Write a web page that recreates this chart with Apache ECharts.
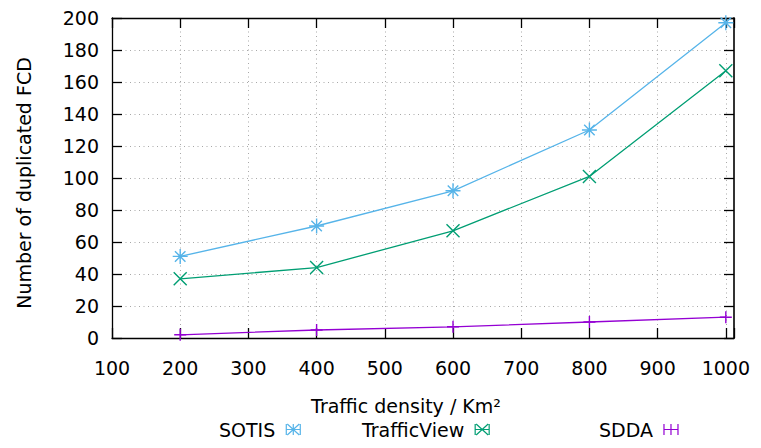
<!DOCTYPE html>
<html>
<head>
<meta charset="utf-8">
<script src="https://cdn.jsdelivr.net/npm/echarts@6/dist/echarts.min.js"></script>
<style>html,body{margin:0;padding:0;background:#fff}#c{width:761px;height:448px}</style>
</head>
<body>
<div id="c"></div>
<script>
const densities = [200, 400, 600, 800, 1000];
const sotis = [51, 70, 92, 130, 197];
const trafficView = [37, 44, 67, 101, 167];
const sdda = [2, 5, 7, 10, 13];
const seriesNames = ['SOTIS', 'TrafficView', 'SDDA'];
const xTitle = 'Traffic density / Km²';
const yTitle = 'Number of duplicated FCD';

const FONT = 'DejaVu Sans';
const colors = {SOTIS: '#56b4e9', TrafficView: '#009e73', SDDA: '#9400d3'};
const starPath = 'path://M0,-10V10M-10,0H10M-7,-7L7,7M-7,7L7,-7';
const crossPath = 'path://M-10,-10L10,10M-10,10L10,-10';
const plusPath = 'path://M0,-10V10M-10,0H10';
const markers = {SOTIS: starPath, TrafficView: crossPath, SDDA: plusPath};
const sizes = {SOTIS: [15, 15], TrafficView: [13, 13], SDDA: [12, 12]};
const legendIcons = {
  SOTIS: 'path://M0,0V11M14,0V11M0,5.5H14M7,0V11M1,0L13,11M1,11L13,0',
  TrafficView: 'path://M0,0V11M14,0V11M0,5.5H14M1,0L13,11M1,11L13,0',
  SDDA: 'path://M0,0V11M14,0V11M0,5.5H14M7,0V11'
};
const values = {SOTIS: sotis, TrafficView: trafficView, SDDA: sdda};
const legendLeft = {SOTIS: 214, TrafficView: 357, SDDA: 594};

const chart = echarts.init(document.getElementById('c'), null, {renderer: 'svg'});
const gridStyle = {show: true, lineStyle: {color: '#a8a8a8', width: 1, type: [1, 3.5]}};
const axisLineStyle = {show: true, onZero: false, lineStyle: {color: '#000', width: 1.3}};
const tickStyle = {show: true, inside: true, length: 10, lineStyle: {color: '#000', width: 1.3}};

chart.setOption({
  animation: false,
  textStyle: {fontFamily: FONT},
  grid: {left: 112, right: 27, top: 18, bottom: 110, containLabel: false},
  xAxis: [{
    type: 'value', min: 100, max: 1012, interval: 100, position: 'bottom',
    axisLine: axisLineStyle, axisTick: tickStyle, splitLine: gridStyle,
    axisLabel: {fontFamily: FONT, fontSize: 19, color: '#000', margin: 20,
      formatter: v => (v % 100 === 0 ? String(v) : '')}
  }, {
    type: 'value', min: 100, max: 1012, interval: 100, position: 'top',
    axisLine: axisLineStyle, axisTick: tickStyle, splitLine: {show: false},
    axisLabel: {show: false}
  }],
  yAxis: [{
    type: 'value', min: 0, max: 200, interval: 20, position: 'left',
    axisLine: axisLineStyle, axisTick: tickStyle, splitLine: gridStyle,
    axisLabel: {fontFamily: FONT, fontSize: 19, color: '#000', margin: 13}
  }, {
    type: 'value', min: 0, max: 200, interval: 20, position: 'right',
    axisLine: {show: true, onZero: false, lineStyle: {color: '#333', width: 2}},
    axisTick: tickStyle, splitLine: {show: false}, axisLabel: {show: false}
  }],
  legend: seriesNames.map(n => ({
    data: [{name: n, icon: legendIcons[n]}],
    left: legendLeft[n], top: 415, align: 'right',
    itemWidth: 14, itemHeight: 11,
    itemStyle: {borderWidth: 1.2, color: 'none'},
    textStyle: {fontFamily: FONT, fontSize: 19, color: '#000', padding: [0, 6, 0, 0]}
  })),
  graphic: [{
    type: 'text', x: 406, y: 406,
    style: {text: xTitle, font: '19px "DejaVu Sans"', fill: '#000',
      x: 0, y: 0, textAlign: 'center', textVerticalAlign: 'middle'}
  }, {
    type: 'text', x: 24, y: 183, rotation: Math.PI / 2,
    style: {text: yTitle, font: '19px "DejaVu Sans"', fill: '#000',
      x: 0, y: 0, textAlign: 'center', textVerticalAlign: 'middle'}
  }],
  series: seriesNames.map(n => ({
    name: n, type: 'line',
    data: densities.map((d, i) => [d, values[n][i]]),
    symbol: markers[n], symbolSize: sizes[n],
    showAllSymbol: true,
    lineStyle: {color: colors[n], width: 1.3},
    itemStyle: {color: colors[n], borderColor: colors[n], borderWidth: 1.4},
    emphasis: {disabled: true}
  }))
});
</script>
</body>
</html>
